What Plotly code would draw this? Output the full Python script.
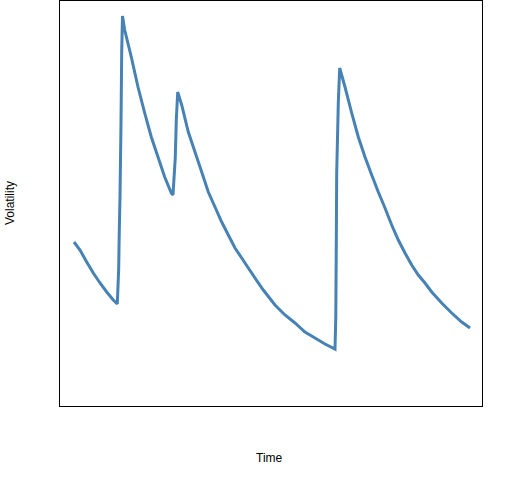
import plotly.graph_objects as go

# Time (days) and volatility values
time = [0, 6, 12.7, 19.3, 26, 32.7, 39.3, 43.3,
        44.7, 45.3, 46, 47, 47.7, 48.5,
        50.7, 57.3, 64, 70.7, 77.3, 84, 90.7, 97.3, 99,
        101.3, 102.3, 103.7,
        107.7, 114.3, 121, 127.7, 134.3, 141, 147.7, 154.3, 161, 167.7, 174.3, 181, 189.3,
        201, 211, 221, 231, 241, 251, 261,
        261.8, 262.3, 262.7, 264.3, 265.7,
        271, 277.7, 284.3, 291, 297.7, 304.3, 311, 317.7, 324.3, 331, 337.7, 344.3, 351, 357.7,
        367.7, 377.7, 387.7, 396]
volatility = [16.4, 15.6, 14.4, 13.3, 12.3, 11.4, 10.6, 10.2,
              13.8, 17.6, 20.9, 28.3, 35.4, 39.0,
              37.6, 34.9, 31.9, 29.3, 26.9, 24.9, 22.9, 21.3, 21.1,
              24.9, 28.6, 31.4,
              30.1, 27.4, 25.4, 23.4, 21.4, 19.9, 18.4, 17.1, 15.8, 14.8, 13.8, 12.8, 11.6,
              10.1, 9.1, 8.3, 7.4, 6.8, 6.2, 5.7,
              9.0, 16.3, 23.3, 30.3, 33.8,
              31.9, 29.3, 26.9, 24.9, 23.1, 21.4, 19.8, 18.1, 16.6, 15.3, 14.1, 13.1, 12.3, 11.4,
              10.3, 9.3, 8.4, 7.8]

x_title = "Time"
y_title = "Volatility"

fig = go.Figure()
fig.add_trace(go.Scatter(x=time, y=volatility, mode="lines",
                         line=dict(color="#4682B4", width=3, simplify=False), showlegend=False))

axis_common = dict(showline=True, mirror=True, linecolor="black", linewidth=1,
                   showgrid=False, zeroline=False, showticklabels=False, ticks="")
fig.update_xaxes(range=[-14, 408], **axis_common)
fig.update_yaxes(range=[0, 40.5], **axis_common)

font = dict(family="Liberation Sans, Arial, sans-serif", size=12, color="black")
fig.update_layout(
    width=512, height=480,
    margin=dict(l=60, r=30, t=1, b=74),
    paper_bgcolor="white", plot_bgcolor="white",
    font=font,
    annotations=[
        dict(text=x_title, xref="paper", yref="paper", x=(269 - 60) / 422, y=-52 / 405,
             xanchor="center", yanchor="middle", showarrow=False, font=font),
        dict(text=y_title, xref="paper", yref="paper", x=(10 - 60) / 422, y=(406 - 203) / 405,
             xanchor="center", yanchor="middle", textangle=-90, showarrow=False, font=font),
    ],
)

fig.write_html("out.html", config={"displayModeBar": False},
               post_script="document.body.style.margin='0px';document.body.style.padding='0px';")
